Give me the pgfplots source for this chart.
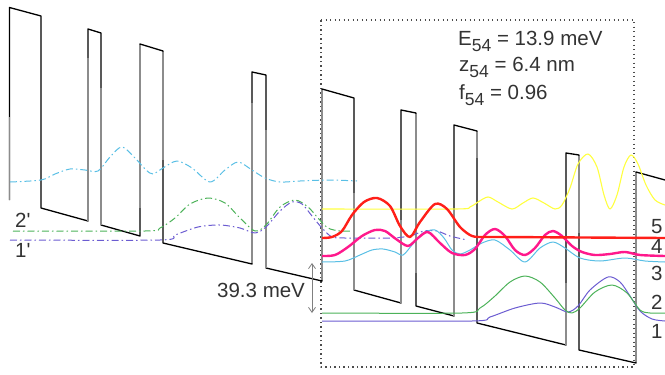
\documentclass[border=0pt]{standalone}
\usepackage{pgfplots}
\pgfplotsset{compat=1.18}
\usepackage{fontspec}
\setmainfont{Liberation Sans}
\usetikzlibrary{arrows.meta}
\definecolor{txt}{rgb}{0.2,0.2,0.2}
\definecolor{wyel}{rgb}{1,1,0.25}
\definecolor{wred}{rgb}{1,0.12,0.1}
\definecolor{wmag}{rgb}{1,0.1,0.55}
\definecolor{wcya}{rgb}{0.35,0.75,0.9}
\definecolor{wgrn}{rgb}{0.3,0.7,0.35}
\definecolor{wpur}{rgb}{0.42,0.36,0.82}
\definecolor{edge}{rgb}{0.55,0.55,0.55}
\newcommand{\sub}[1]{\raisebox{-6pt}{\fontsize{17.5}{18}\selectfont #1}}
\begin{document}
\begin{tikzpicture}
\begin{axis}[
  width=665pt, height=375pt, scale only axis,
  xmin=0, xmax=665, ymin=0, ymax=375, y dir=reverse,
  hide axis, clip=false,
  every axis plot/.append style={line join=round},
  dashdot/.style={dash pattern=on 7pt off 3pt on 1.5pt off 3pt},
  gseg/.style={edge, line width=1.4pt},
]
% dotted box
\addplot[gray!60!black, line width=1.1pt, dash pattern=on 1.1pt off 3.4pt] coordinates {
(321,20) (634,20) (634,367) (321,367) (321,20)};
% conduction band profile
\addplot[black, line width=1.3pt] coordinates {
(9.5,200) (9.5,7.5) (41,16) (41,208) (88,221) (88,29) (101,33) (101,225)
(140,236) (140,44) (163,51) (163,243) (252,264) (252,72) (266,75) (266,268)
(322,281) (322,89) (354,98) (354,290) (401,303) (401,110) (416,113) (416,306)
(454,316) (454,125) (477,131) (477,323) (566,345) (566,153) (579,155) (579,350)
(636,363) (636,172) (665,180)};
% lighter (grey) parts of the barrier edges
\addplot[gseg] coordinates {(9.5,117) (9.5,200)};
\addplot[gseg] coordinates {(88,58) (88,221)};
\addplot[gseg] coordinates {(101,88) (101,225)};
\addplot[gseg] coordinates {(140,45) (140,208)};
\addplot[gseg] coordinates {(163,52) (163,160)};
\addplot[gseg] coordinates {(252,103) (252,263)};
\addplot[gseg] coordinates {(266,130) (266,268)};
\addplot[gseg] coordinates {(322,90) (322,280)};
\addplot[gseg] coordinates {(354,193) (354,290)};
\addplot[gseg] coordinates {(401,220) (401,303)};
\addplot[gseg] coordinates {(416,114) (416,273)};
\addplot[gseg] coordinates {(454,210) (454,316)};
\addplot[gseg] coordinates {(477,132) (477,158)};
\addplot[gseg] coordinates {(566,283) (566,345)};
\addplot[gseg] coordinates {(579,156) (579,233)};
\addplot[gseg] coordinates {(636,173) (636,362)};
% left period (dash-dot)
\addplot[wcya, line width=1pt, dashdot, smooth] coordinates {
(10,182) (41,180) (55,174) (70,169) (85,170) (98,171) (110,157) (122,147) (136,159)
(146,170) (153,174) (163,168) (177,161) (192,168) (210,182) (225,170) (238,162)
(252,170) (265,178) (280,182) (300,181) (330,180) (357,181)};
\addplot[wgrn, line width=1pt, dashdot, smooth] coordinates {
(13,231) (145,231) (160,228) (175,218) (190,204) (208,198) (225,203) (240,218)
(255,231) (266,225) (280,207) (295,200) (308,207) (318,218) (328,228) (340,231) (350,231)};
\addplot[wpur, line width=1pt, dashdot, smooth] coordinates {
(10,240) (160,240) (175,235) (198,227) (220,225) (240,228) (255,233) (266,227)
(280,211) (292,202) (302,204) (312,216) (322,228) (332,237) (345,238) (390,238)
(410,236) (424,231) (437,231) (450,236) (467,240)};
% right period (solid)
\addplot[wpur, line width=1pt, smooth] coordinates {
(322,321) (472,321) (490,317) (515,308) (540,303) (555,307) (568,312) (578,306)
(590,290) (608,277) (620,282) (630,296) (640,311) (652,319) (665,321)};
\addplot[wgrn, line width=1pt, smooth] coordinates {
(322,313) (462,313) (480,308) (495,296) (510,282) (525,276) (540,282) (555,298)
(565,310) (572,313) (580,308) (595,292) (612,285) (627,293) (640,310) (650,313) (665,313)};
\addplot[wcya, line width=1pt, smooth] coordinates {
(322,262) (345,261) (360,255) (372,250) (383,249) (395,252) (403,255) (412,245)
(423,233) (435,230) (444,238) (452,250) (460,254) (470,250) (482,243) (495,240)
(510,250) (525,262) (540,248) (553,242) (565,248) (580,258) (600,261) (625,258)
(645,261) (665,262)};
\addplot[wyel, line width=1.1pt, smooth] coordinates {
(322,209) (455,209) (470,207) (478,202) (488,197) (498,202) (512,209) (523,203)
(533,198) (544,203) (555,209) (562,205) (570,188) (578,164) (588,154) (597,167)
(604,195) (610,209) (617,195) (624,167) (631,155) (638,164) (646,185) (655,200) (665,205)};
\addplot[wmag, line width=2.4pt, smooth] coordinates {
(322,256) (335,255) (348,247) (362,236) (375,230) (385,231) (396,239) (408,246)
(418,238) (428,232) (440,243) (452,253) (465,255) (475,249) (485,235) (495,229)
(505,236) (515,250) (525,255) (535,248) (545,235) (553,231) (562,236) (572,246)
(582,252) (595,255) (610,254) (625,252) (640,255) (665,256)};
\addplot[wred, line width=2.4pt, smooth] coordinates {
(322,238) (332,237) (342,231) (352,215) (364,202) (377,198) (390,206) (400,226)
(410,237) (420,222) (435,204) (447,209) (460,227) (472,236) (485,237) (500,237) (665,238)};
% texts
\begin{scope}[txt, every node/.style={inner sep=0pt, anchor=base west, font=\fontsize{20.5}{24}\selectfont}]
\node at (axis cs:458,45) {E\sub{54} = 13.9 meV};
\node at (axis cs:459,71) {z\sub{54} = 6.4 nm};
\node at (axis cs:459,99) {f\sub{54} = 0.96};
\node at (axis cs:651,233) {5};
\node at (axis cs:651,253) {4};
\node at (axis cs:651,280) {3};
\node at (axis cs:651,309) {2};
\node at (axis cs:651,338) {1};
\node at (axis cs:15,227) {2\textquotesingle};
\node at (axis cs:15,257) {1\textquotesingle};
\node at (axis cs:217,297.5) {39.3 meV};
\end{scope}
\draw[gray, line width=0.8pt, {Straight Barb[length=5pt,width=7pt]}-{Straight Barb[length=5pt,width=7pt]}]
  (axis cs:312,263) -- (axis cs:312,313);
\end{axis}
\pgfresetboundingbox
\path (0,0) rectangle (665pt,375pt);
\end{tikzpicture}
\end{document}
